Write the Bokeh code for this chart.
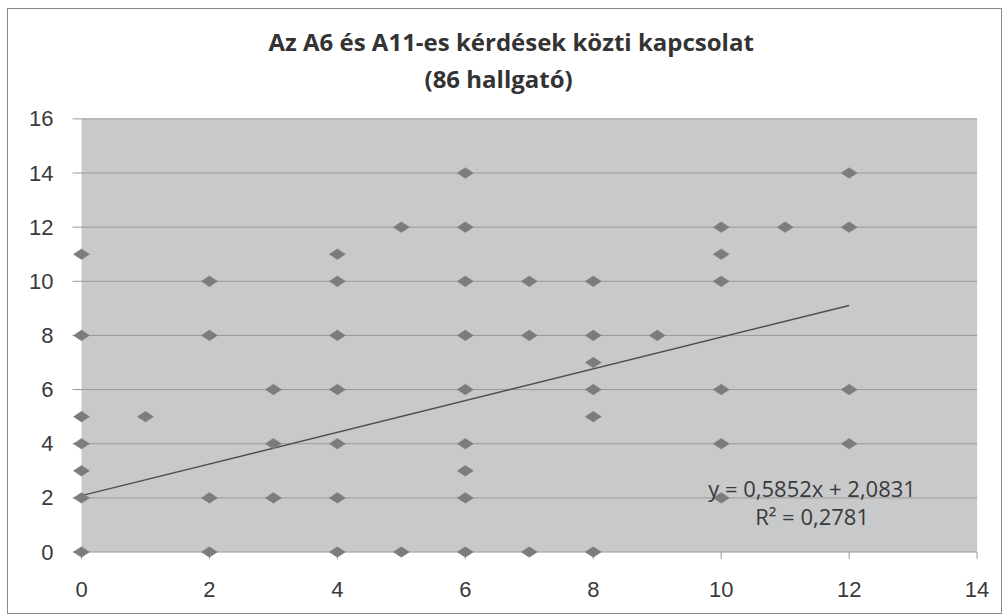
import math
from bokeh.plotting import figure
from bokeh.models import Range1d, FixedTicker, Label, Title
from bokeh.embed import file_html
from bokeh.resources import INLINE

# ---- data ----
title_line1 = "Az A6 és A11-es kérdések közti kapcsolat"
title_line2 = "(86 hallgató)"
x_vals = [0, 0, 0, 0, 0, 0, 0,
          1,
          2, 2, 2, 2,
          3, 3, 3,
          4, 4, 4, 4, 4, 4, 4,
          5, 5,
          6, 6, 6, 6, 6, 6, 6, 6, 6,
          7, 7, 7,
          8, 8, 8, 8, 8, 8,
          9,
          10, 10, 10, 10, 10, 10,
          11,
          12, 12, 12, 12]
y_vals = [0, 2, 3, 4, 5, 8, 11,
          5,
          0, 2, 8, 10,
          2, 4, 6,
          0, 2, 4, 6, 8, 10, 11,
          0, 12,
          0, 2, 3, 4, 6, 8, 10, 12, 14,
          0, 8, 10,
          0, 5, 6, 7, 8, 10,
          8,
          2, 4, 6, 10, 11, 12,
          12,
          4, 6, 12, 14]
trend_slope = 0.5852
trend_intercept = 2.0831
trend_x = [0, 12]
eq_text = "y = 0,5852x + 2,0831"
r2_text = "R² = 0,2781"
x_ticks = [0, 2, 4, 6, 8, 10, 12, 14]
y_ticks = [0, 2, 4, 6, 8, 10, 12, 14, 16]
x_min, x_max = 0, 14
y_min, y_max = 0, 16

trend_y = [trend_slope * v + trend_intercept for v in trend_x]

GRID = "#9a9a9a"

p = figure(frame_width=918, frame_height=444, output_backend="svg",
           toolbar_location=None,
           x_range=Range1d(-0.25, 14.1), y_range=Range1d(-0.35, 16.05),
           min_border_left=57, min_border_right=18, min_border_top=108,
           min_border_bottom=52)
p.background_fill_color = "white"
p.border_fill_color = "white"
p.outline_line_color = None
p.styles = {"border": "1px solid #8a8a8a", "margin-left": "7px",
            "margin-top": "8px"}

# plot area (gray) exactly over the data range
p.quad(left=[x_min], right=[x_max], bottom=[y_min], top=[y_max],
       fill_color="#c8c9cb", line_color=None)

p.grid.grid_line_color = None
# horizontal gridlines that stick out to the left as tick marks
p.segment(x0=[x_min - 0.14] * len(y_ticks), x1=[x_max] * len(y_ticks),
          y0=y_ticks, y1=y_ticks, line_color=GRID, line_width=1)
# x-axis tick marks below y=0
p.segment(x0=x_ticks, x1=x_ticks, y0=[y_min] * len(x_ticks),
          y1=[y_min - 0.26] * len(x_ticks), line_color=GRID, line_width=1)

p.xaxis.ticker = FixedTicker(ticks=x_ticks)
p.yaxis.ticker = FixedTicker(ticks=y_ticks)
for ax in (p.xaxis, p.yaxis):
    ax.major_label_text_font = "Liberation Sans"
    ax.major_label_text_font_size = "22px"
    ax.major_label_text_color = "#3a3a3a"
    ax.major_tick_line_color = None
    ax.minor_tick_line_color = None
    ax.axis_line_color = None
p.yaxis.major_label_standoff = 6
p.xaxis.major_label_standoff = 14

p.line(trend_x, trend_y, line_color="#4f4f4f", line_width=1.5)
p.scatter(x_vals, y_vals, marker="diamond", size=16, angle=math.pi / 2,
          fill_color="#7c7c7c", line_color="#7c7c7c", line_width=0.5)

p.add_layout(Label(x=11.42, y=2.37, text=eq_text, text_align="center",
                   text_baseline="middle", text_font="Open Sans",
                   text_font_size="22px", text_color="#3a3a3a"))
p.add_layout(Label(x=11.42, y=1.33, text=r2_text, text_align="center",
                   text_baseline="middle", text_font="Open Sans",
                   text_font_size="22px", text_color="#3a3a3a"))

# spacer between the frame and the two title lines
spacer = Title(text=" ", align="left", text_font="Open Sans",
               text_font_size="10px", text_color="white", standoff=7)
t2 = Title(text=title_line2, align="left", text_font="Open Sans",
           text_font_style="bold", text_font_size="24px",
           text_color="#333333", standoff=0, offset=359)
t1 = Title(text=title_line1, align="left", text_font="Open Sans",
           text_font_style="bold", text_font_size="24px",
           text_color="#333333", standoff=4, offset=203)
p.add_layout(spacer, "above")
p.add_layout(t2, "above")
p.add_layout(t1, "above")

open("out.html", "w").write(file_html(p, INLINE))
